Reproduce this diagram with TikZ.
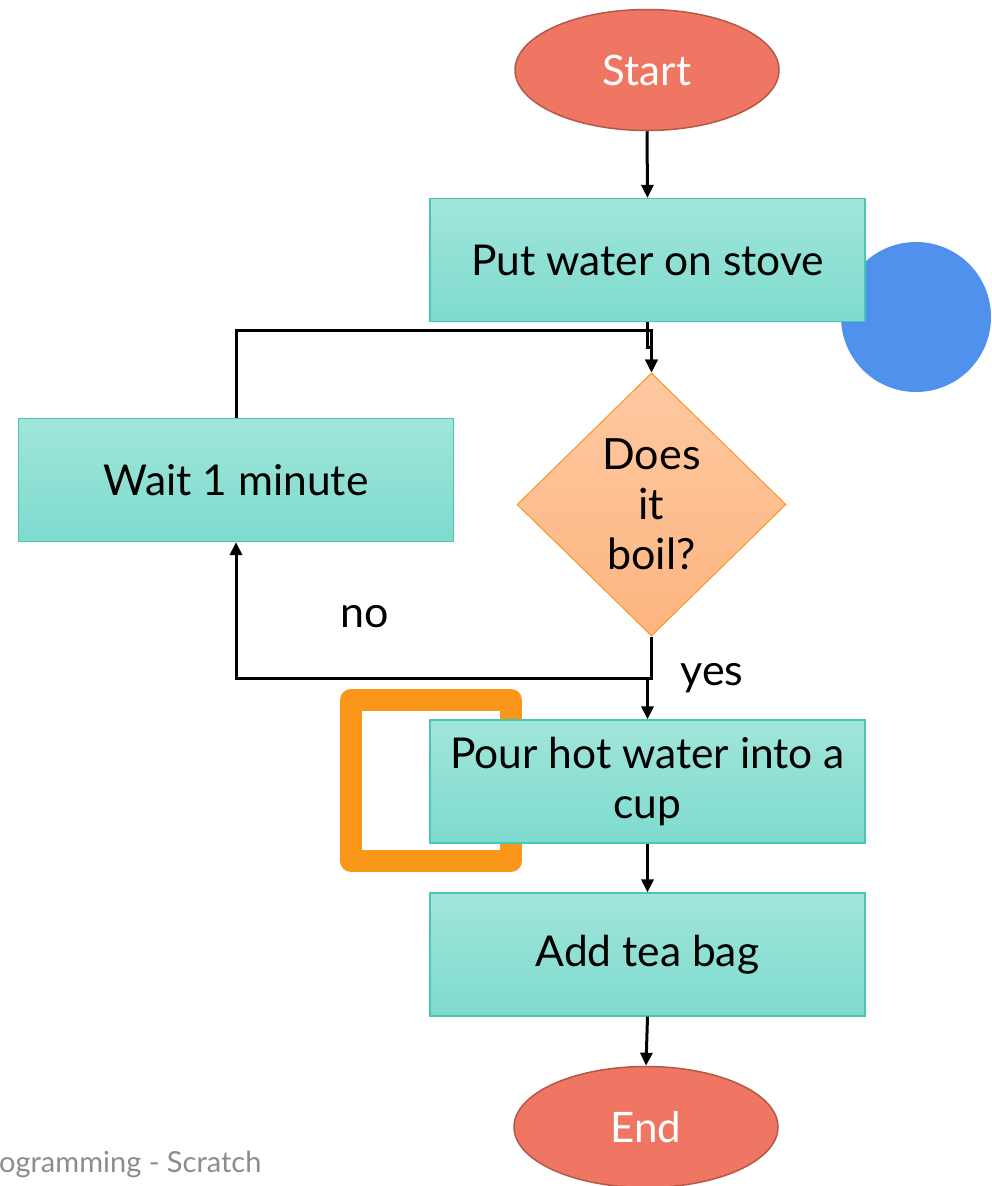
\documentclass[tikz,border=0pt]{standalone}
\usepackage{fontspec}
\setmainfont{Lato}
\usetikzlibrary{shapes.geometric,arrows.meta,calc}

\definecolor{tealtop}{RGB}{161,229,218}
\definecolor{tealbot}{RGB}{126,219,206}
\definecolor{tealedge}{RGB}{74,198,180}
\definecolor{termfill}{RGB}{238,118,98}
\definecolor{termedge}{RGB}{180,88,72}
\definecolor{dectop}{RGB}{254,201,161}
\definecolor{decbot}{RGB}{253,181,128}
\definecolor{decedge}{RGB}{247,150,40}
\definecolor{dotblue}{RGB}{80,145,238}
\definecolor{frameorange}{RGB}{250,150,25}
\definecolor{footgray}{RGB}{140,140,140}

\begin{document}
\begin{tikzpicture}[x=1pt,y=-1pt,
  process/.style={rectangle, draw=tealedge, line width=1.2pt,
    top color=tealtop, bottom color=tealbot,
    minimum width=435pt, minimum height=123pt, inner sep=0pt,
    align=center, font=\fontsize{42.5}{50}\selectfont},
  terminal/.style={ellipse, draw=termedge, line width=1.5pt, fill=termfill,
    text=white, minimum width=264pt, minimum height=121pt, inner sep=0pt,
    font=\fontsize{42}{50}\selectfont},
  decision/.style={diamond, draw=decedge, line width=1pt,
    top color=dectop, bottom color=decbot,
    minimum width=269pt, minimum height=263pt, inner sep=0pt,
    align=center, font=\fontsize{43}{50}\selectfont},
  flow/.style={line width=3pt, -{Triangle[length=13pt,width=12pt]}},
  branch/.style={font=\fontsize{43}{50}\selectfont, inner sep=0pt},
  marker/.style={line width=22pt, draw=frameorange, line join=round}]

\useasboundingbox (0,0) rectangle (991,1186);

% decorative dot behind the first step
\fill[dotblue] (916,317) circle (75);

% nodes
\node[terminal] (start) at (647,70) {Start};
\node[process] (put) at (647.5,260) {Put water on stove};
\node[process] (wait) at (236,480) {Wait 1 minute};
\node[decision] (dec) at (651.5,504.5) {Does\\it\\boil?};

% highlight frame, partly covered by the pour step
\draw[marker] (351,700) rectangle (511,861);

\node[process] (pour) at (647.5,781.5) {Pour hot water into a\\cup};
\node[process] (add) at (647.5,954.5) {Add tea bag};
\node[terminal] (end) at (646,1127) {End};

% connectors
\draw[flow] (start.south) -- (put.north);
\draw[flow] (put.south) -- ++(0,25) -| (dec.north);
\coordinate (loopTop) at ($(dec.north)+(0,-42)$);
\draw[flow] (wait.north) |- (loopTop) -- (dec.north);
\coordinate (loopBot) at ($(dec.south)+(0,42)$);
\draw[flow] (dec.south) -- (loopBot) -| (wait.south);
\draw[flow] (dec.south) -- (loopBot) -| (pour.north);
\draw[flow] (pour.south) -- (add.north);
\draw[flow] (add.south) -- (end.north);

% branch labels
\node[branch] (nolbl) at (365,617) {no};
\node[branch] (yeslbl) at (712,678) {yes};

% footer
\node[anchor=base west, inner sep=0pt, text=footgray,
  font=\fontsize{29}{34}\selectfont] (footer) at (-1,1172) {ogramming - Scratch};
\end{tikzpicture}
\end{document}
